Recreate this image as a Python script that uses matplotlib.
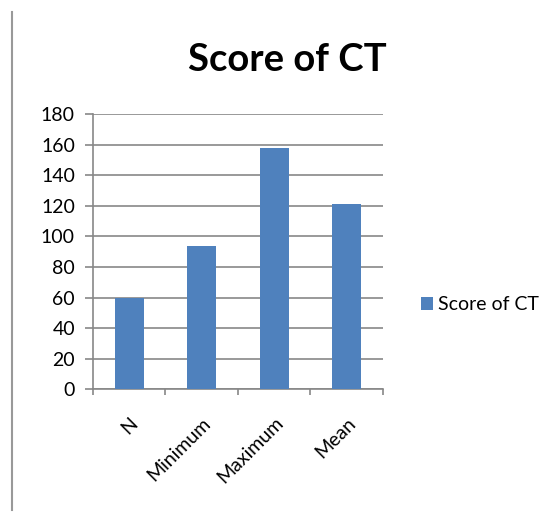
#!/usr/bin/env python3
"""Score of CT – simple column chart."""

import numpy as np
import matplotlib
matplotlib.use("Agg")
import matplotlib.pyplot as plt
from matplotlib.lines import Line2D

# ── data
categories = ["N", "Minimum", "Maximum", "Mean"]
scores = [60, 94, 158, 121]
series_name = "Score of CT"
y_ticks = list(range(0, 181, 20))

BAR = "#4F81BD"
GRID = "#878787"

plt.rcParams["font.family"] = ["Lato", "DejaVu Sans"]

fig = plt.figure(figsize=(5.39, 5.14), dpi=100)
ax = fig.add_axes([0.1725, 0.2426, 0.538, 0.5356])

x = np.arange(len(categories))
ax.bar(x, scores, width=0.4, color=BAR, label=series_name, zorder=3)

ax.set_xlim(-0.5, len(categories) - 0.5)
ax.set_ylim(0, 180)
ax.set_yticks(y_ticks)
ax.tick_params(axis="y", length=6, width=1.2, color=GRID, labelsize=14, pad=7)
ax.yaxis.grid(True, color=GRID, linewidth=1.2, zorder=0)

# category labels at centres, tick marks at boundaries
ax.set_xticks(x)
ax.set_xticklabels(categories, rotation=45, ha="right", va="top",
                   rotation_mode="anchor", fontsize=14)
ax.tick_params(axis="x", which="major", length=0, pad=18)
ax.set_xticks(np.arange(len(categories) + 1) - 0.5, minor=True)
ax.tick_params(axis="x", which="minor", length=4, width=1.2, color=GRID)

for side in ("top", "right"):
    ax.spines[side].set_visible(False)
for side in ("left", "bottom"):
    ax.spines[side].set_color(GRID)
    ax.spines[side].set_linewidth(1.2)
ax.set_axisbelow(True)

fig.text(0.533, 0.883, series_name, ha="center", va="center",
         fontsize=27.5, fontweight="bold")

fig.legend(loc="center left", bbox_to_anchor=(421 / 539, 1 - 305 / 514),
           frameon=False, fontsize=14, borderpad=0, borderaxespad=0,
           handlelength=0.6, handleheight=0.6, handletextpad=0.3)

# thin page border line at the left
fig.add_artist(Line2D([12 / 539, 12 / 539], [4 / 514, 1 - 12 / 514],
                      color="#999999", linewidth=1.5, transform=fig.transFigure))

fig.savefig("out.png", dpi=100)
